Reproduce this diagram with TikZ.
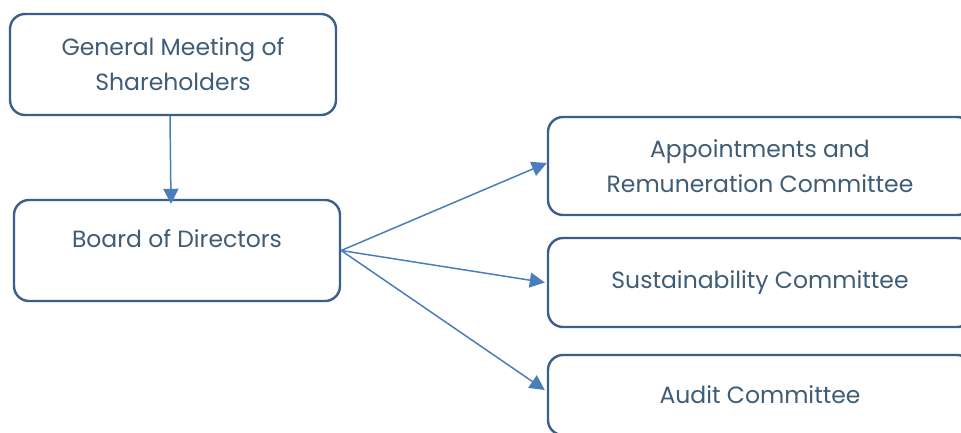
\documentclass[tikz,border=0pt]{standalone}
\usepackage{fontspec}
\setmainfont{Poppins}
\usetikzlibrary{arrows.meta}

\definecolor{boxline}{HTML}{3B5E8C}
\definecolor{arrowline}{HTML}{4A7EBB}
\definecolor{boxtext}{HTML}{3E5C76}

\begin{document}
\begin{tikzpicture}[x=1pt,y=-1pt,
  box/.style={draw=boxline, line width=2.4pt, rounded corners=15pt,
    text=boxtext, align=center, inner sep=0pt, font=\fontsize{23.5}{35}\selectfont},
  link/.style={draw=arrowline, line width=1.5pt, -{Triangle[length=15pt,width=15pt]}}]
\useasboundingbox (0,0) rectangle (961,432);
\clip (0,0) rectangle (961,432);
% left column
\node (meeting) [box, minimum width=326pt, minimum height=101pt] at (173,64.5)
  {General Meeting of\\Shareholders};
\node (board) [box, minimum width=326pt, minimum height=101pt] at (177,250.5) {};
\node (boardtext) [box, draw=none] at (177,239) {Board of Directors};
% committees
\node (appoint) [box, minimum width=424pt, minimum height=98pt] at (760,166)
  {Appointments and\\Remuneration Committee};
\node (sustain) [box, minimum width=424pt, minimum height=89pt] at (760,282.5)
  {Sustainability Committee};
\node (audit) [box, minimum width=424pt, minimum height=80pt] at (760,395)
  {Audit Committee};
% arrows
\draw [link] ([xshift=-3pt]meeting.south) -- ([xshift=-6pt,yshift=-5pt]board.north);
\draw [link] (board.east) -- ([yshift=3pt]appoint.west);
\draw [link] (board.east) -- ([xshift=-2pt]sustain.west);
\draw [link] (board.east) -- ([xshift=-2pt,yshift=5pt]audit.west);
\end{tikzpicture}
\end{document}
